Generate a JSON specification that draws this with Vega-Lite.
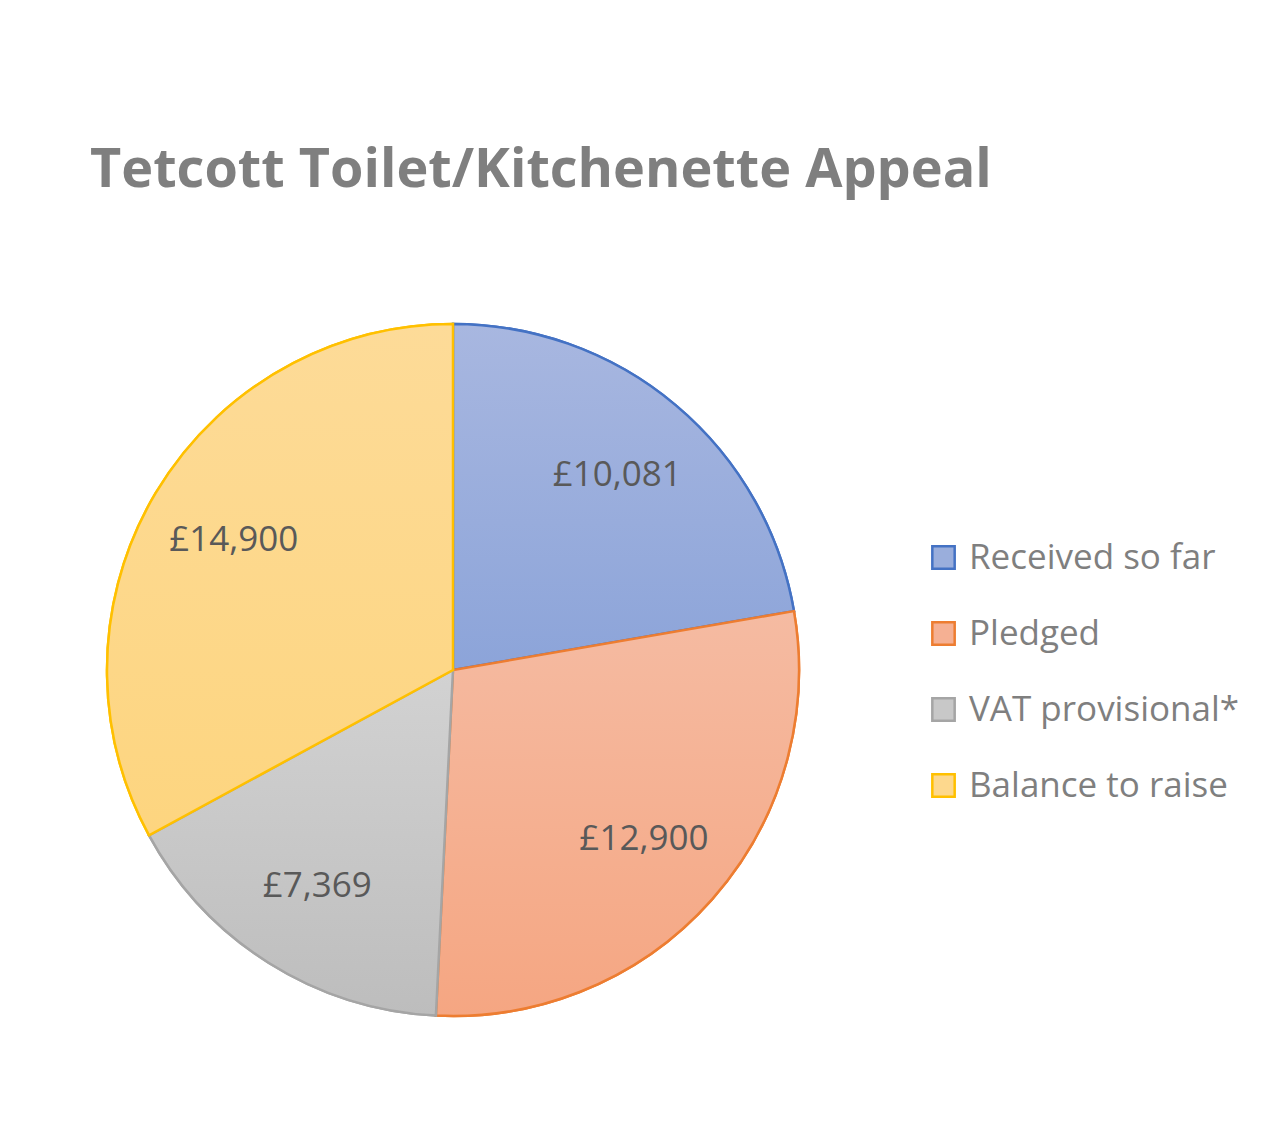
{
  "$schema": "https://vega.github.io/schema/vega-lite/v6.json",
  "autosize": "none",
  "width": 906,
  "height": 840,
  "padding": {"left": 0, "top": 250, "right": 382, "bottom": 54},
  "background": "white",
  "title": {
    "text": "Tetcott Toilet/Kitchenette Appeal",
    "anchor": "start",
    "dx": 90,
    "offset": 52,
    "font": "Open Sans",
    "fontSize": 54,
    "fontWeight": "bold",
    "color": "#7F7F7F"
  },
  "data": {
    "values": [
      {"category": "Received so far", "amount": 10081, "label": "£10,081", "idx": 1},
      {"category": "Pledged", "amount": 12900, "label": "£12,900", "idx": 2},
      {"category": "VAT provisional*", "amount": 7369, "label": "£7,369", "idx": 3},
      {"category": "Balance to raise", "amount": 14900, "label": "£14,900", "idx": 4}
    ]
  },
  "encoding": {
    "theta": {"field": "amount", "type": "quantitative", "stack": true},
    "order": {"field": "idx", "type": "ordinal"}
  },
  "layer": [
    {
      "mark": {"type": "arc", "outerRadius": 346, "strokeWidth": 2.5},
      "encoding": {
        "fill": {
          "field": "category",
          "type": "nominal",
          "sort": ["Received so far", "Pledged", "VAT provisional*", "Balance to raise"],
          "scale": {
            "domain": ["Received so far", "Pledged", "VAT provisional*", "Balance to raise"],
            "range": ["#9AAEDC", "#F5B093", "#C8C8C8", "#FDD88D"]
          },
          "legend": {
            "title": null,
            "orient": "none",
            "legendX": 926,
            "legendY": 290,
            "symbolType": "square",
            "symbolSize": 500,
            "symbolStrokeWidth": 2.5,
            "labelFont": "Open Sans",
            "labelFontSize": 35,
            "labelLimit": 400,
            "labelColor": "#7F7F7F",
            "labelOffset": 8,
            "rowPadding": 40,
            "padding": 0
          }
        },
        "stroke": {
          "field": "category",
          "type": "nominal",
          "sort": ["Received so far", "Pledged", "VAT provisional*", "Balance to raise"],
          "scale": {
            "domain": ["Received so far", "Pledged", "VAT provisional*", "Balance to raise"],
            "range": ["#4472C4", "#ED7D31", "#A5A5A5", "#FFC000"]
          }
        }
      }
    },
    {
      "mark": {"type": "arc", "outerRadius": 346, "strokeWidth": 2.5},
      "encoding": {
        "fill": {
          "condition": [
            {"test": "datum.idx == 1", "value": {"gradient": "linear", "x1": 0, "y1": 0, "x2": 0, "y2": 1, "stops": [{"offset": 0, "color": "#A8B7E0"}, {"offset": 1, "color": "#8CA4D9"}]}},
            {"test": "datum.idx == 2", "value": {"gradient": "linear", "x1": 0, "y1": 0, "x2": 0, "y2": 1, "stops": [{"offset": 0, "color": "#F5BBA2"}, {"offset": 1, "color": "#F5A682"}]}},
            {"test": "datum.idx == 3", "value": {"gradient": "linear", "x1": 0, "y1": 0, "x2": 0, "y2": 1, "stops": [{"offset": 0, "color": "#D2D2D2"}, {"offset": 1, "color": "#BDBDBD"}]}}
          ],
          "value": {"gradient": "linear", "x1": 0, "y1": 0, "x2": 0, "y2": 1, "stops": [{"offset": 0, "color": "#FDDB98"}, {"offset": 1, "color": "#FDD57F"}]}
        },
        "stroke": {
          "field": "category",
          "type": "nominal",
          "sort": ["Received so far", "Pledged", "VAT provisional*", "Balance to raise"]
        }
      }
    },
    {
      "mark": {"type": "text", "radius": 255, "font": "Open Sans", "fontSize": 35, "color": "#595959"},
      "encoding": {
        "text": {"field": "label", "type": "nominal"}
      }
    }
  ]
}
